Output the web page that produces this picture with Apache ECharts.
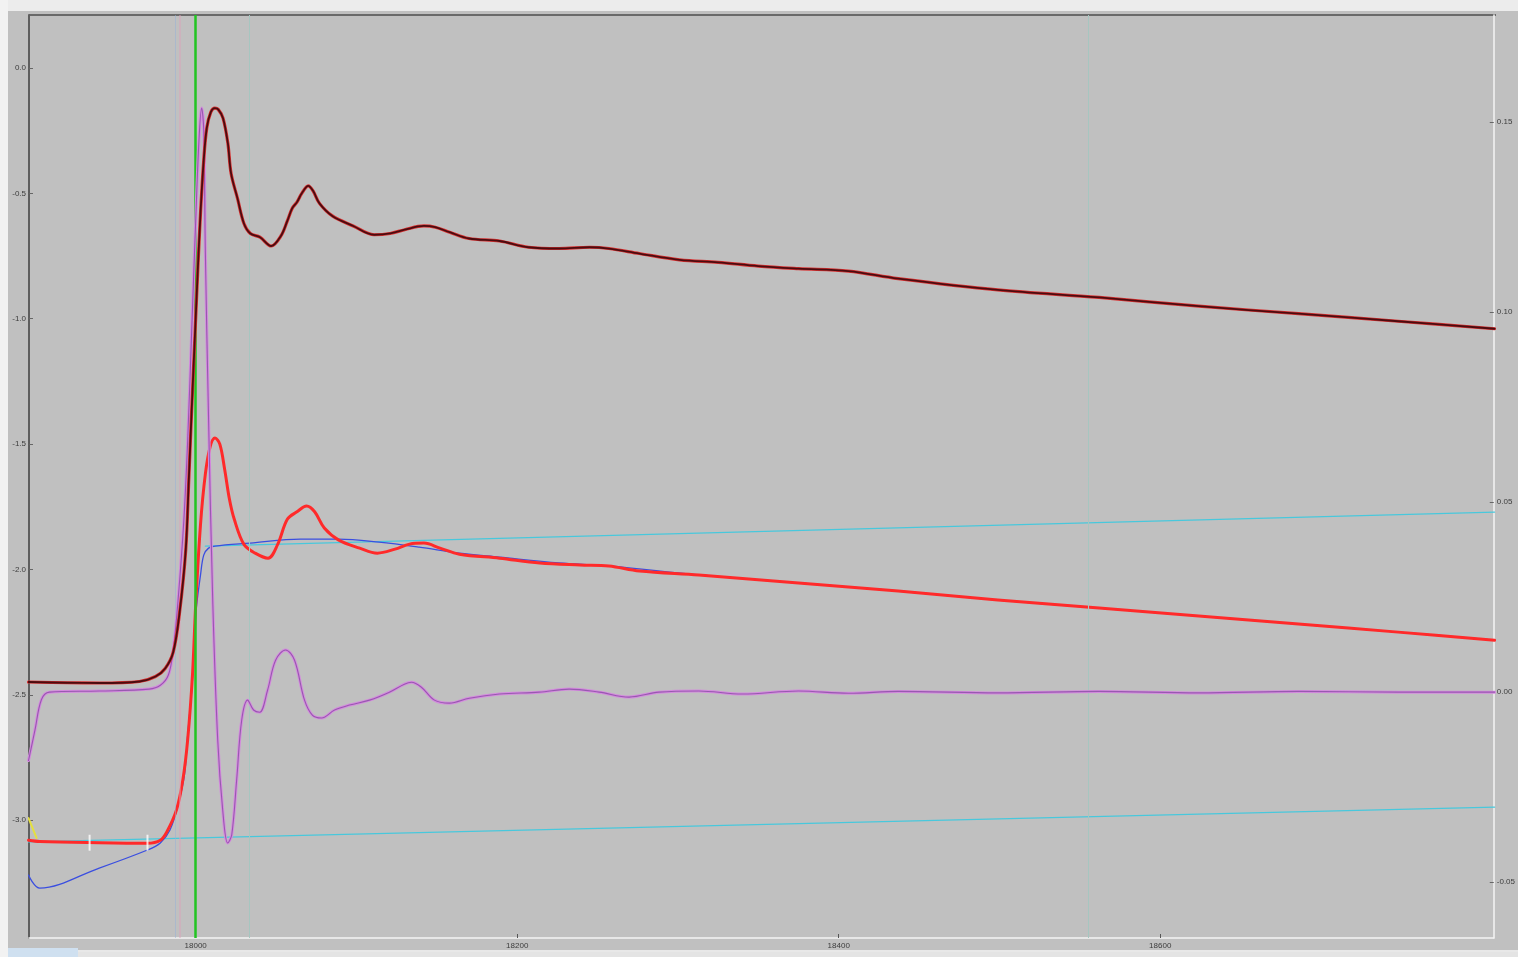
<!DOCTYPE html>
<html><head><meta charset="utf-8">
<script src="https://cdn.jsdelivr.net/npm/echarts@6/dist/echarts.min.js"></script>
<style>html,body{margin:0;padding:0;background:#ededed;overflow:hidden}#c{width:1518px;height:957px;}</style>
</head><body><div id="c"></div><script>
// Tick labels
const xTicks = [18000, 18200, 18400, 18600];
const leftTicks = [-3.0, -2.5, -2.0, -1.5, -1.0, -0.5, 0.0];
const rightTicks = [-0.05, 0.00, 0.05, 0.10, 0.15];

// mu(E), upper curve [energy eV, value]
const muUpper = [[17896,-2.449],[17920,-2.452],[17940,-2.453],[17965,-2.447],[17975,-2.427],[17981,-2.395],[17986,-2.33],[17990,-2.17],[17993.8,-1.923],[17995.7,-1.643],[17997.5,-1.364],[17999.4,-1.085],[18001.3,-0.806],[18003.1,-0.566],[18005,-0.367],[18006.9,-0.239],[18009.4,-0.176],[18011.9,-0.160],[18014,-0.165],[18017,-0.20],[18020,-0.30],[18022,-0.42],[18026,-0.52],[18030,-0.62],[18034,-0.66],[18040,-0.675],[18047,-0.71],[18053,-0.67],[18057,-0.61],[18060,-0.56],[18063,-0.535],[18066,-0.50],[18070,-0.47],[18073,-0.49],[18077,-0.54],[18085,-0.59],[18098,-0.63],[18111,-0.665],[18121,-0.66],[18130,-0.645],[18142,-0.63],[18149,-0.635],[18158,-0.655],[18170,-0.68],[18189,-0.69],[18207,-0.715],[18226,-0.72],[18245,-0.715],[18257,-0.72],[18276,-0.74],[18301,-0.765],[18325,-0.775],[18350,-0.79],[18375,-0.80],[18406,-0.81],[18437,-0.84],[18499,-0.885],[18562,-0.915],[18624,-0.95],[18686,-0.98],[18748,-1.01],[18808,-1.04]];

// lower curve
const muLower = [[17896,-3.08],[17903,-3.085],[17940,-3.09],[17970,-3.092],[17978,-3.08],[17982,-3.047],[17988,-2.96],[17992,-2.84],[17995,-2.68],[17998,-2.42],[18000,-2.14],[18003,-1.82],[18006,-1.62],[18009,-1.51],[18012,-1.476],[18015,-1.50],[18018,-1.60],[18021,-1.72],[18024,-1.80],[18030,-1.90],[18037,-1.935],[18045,-1.955],[18051,-1.90],[18057,-1.80],[18063,-1.77],[18069,-1.747],[18074,-1.77],[18080,-1.835],[18089,-1.883],[18102,-1.915],[18113,-1.935],[18124,-1.919],[18133,-1.899],[18142,-1.895],[18152,-1.915],[18164,-1.939],[18189,-1.955],[18214,-1.974],[18239,-1.982],[18257,-1.986],[18276,-2.006],[18313,-2.022],[18375,-2.054],[18437,-2.086],[18499,-2.122],[18562,-2.154],[18624,-2.186],[18686,-2.218],[18748,-2.25],[18808,-2.282]];

// background (blue)
const bkg = [[17896,-3.219],[17903,-3.271],[17940,-3.191],[17970,-3.119],[17978,-3.091],[17984,-3.039],[17989,-2.94],[17993,-2.82],[17995,-2.661],[17998,-2.441],[18000,-2.182],[18003,-2.022],[18005,-1.943],[18008,-1.915],[18012,-1.907],[18034,-1.895],[18065,-1.879],[18089,-1.879],[18114,-1.891],[18139,-1.911],[18164,-1.935],[18189,-1.951],[18226,-1.974],[18257,-1.986],[18313,-2.022],[18375,-2.054],[18437,-2.086],[18499,-2.122],[18562,-2.154],[18624,-2.186],[18686,-2.218],[18748,-2.25],[18808,-2.282]];

// derivative (right axis)
const deriv = [[17896,-0.018],[17900,-0.010],[17904,-0.002],[17909,0],[17940,0.0003],[17971,0.0008],[17978,0.0018],[17983,0.0045],[17986,0.011],[17989,0.024],[17992.6,0.045],[17995,0.066],[17997.5,0.095],[18000,0.124],[18002,0.145],[18003.7,0.1537],[18005,0.148],[18006,0.116],[18008,0.072],[18010.6,0.024],[18013.7,-0.0126],[18016.8,-0.031],[18019.9,-0.0397],[18022.4,-0.0376],[18025.5,-0.023],[18028.6,-0.0074],[18032.3,-0.0021],[18036,-0.0047],[18039.8,-0.0053],[18044.7,0.0005],[18049.7,0.0084],[18055.9,0.0111],[18061.5,0.0084],[18067.7,-0.0021],[18072.7,-0.0061],[18078.3,-0.0068],[18086.4,-0.0047],[18095.7,-0.0034],[18108.1,-0.0021],[18120.5,0],[18129.8,0.0021],[18134.2,0.0026],[18140.4,0.0013],[18148.5,-0.0021],[18157.8,-0.0029],[18170.2,-0.0016],[18188.9,-0.0005],[18213.7,0],[18232.3,0.0008],[18251,0],[18269.6,-0.0013],[18288.2,0],[18313,0.0003],[18340,-0.0005],[18375,0.0003],[18406,-0.0003],[18437,0.0002],[18499,-0.0002],[18562,0.0002],[18624,-0.0002],[18686,0.0002],[18748,0],[18808,0]];

// pre-edge and post-edge lines
const preLine = [[17896,-3.087],[18808,-2.948]];
const postLine = [[18006,-1.907],[18808,-1.771]];
// pre-edge range markers
const preMarks = [[17934,-3.09],[17970,-3.09]];
const yellowSeg = [[17896,-2.992],[17901,-3.071]];
// vertical markers (eV)
const e0 = 17999.5;
const normLines = [18033.6, 18555];
const faintPink = [17990];
const faintBlue = [17987];

const X_MIN = 17896.3, X_MAX = 18807.5;
const L_MIN = -3.470, L_MAX = 0.2114;
const R_MIN = -0.0647, R_MAX = 0.1782;

const lab = {fontSize: 8, color: '#3c3c3c', fontFamily: 'Liberation Sans'};
const chart = echarts.init(document.getElementById('c'), null, {renderer: 'canvas'});

function line(name, data, color, width, yIdx, z) {
  return {name, type: 'line', data, yAxisIndex: yIdx || 0, showSymbol: false, symbol: 'none',
    smooth: 0.35, lineStyle: {color, width, join: 'round', cap: 'round'}, z: z || 2, silent: true, animation: false};
}
function vline(vals, color, width, z) {
  return {type: 'line', data: [], z: z || 1, silent: true, markLine: {symbol: 'none', silent: true, animation: false,
    label: {show: false}, lineStyle: {color, width, type: 'solid'}, data: vals.map(v => ({xAxis: v}))}};
}

chart.setOption({
  backgroundColor: '#c0c0c0',
  animation: false,
  grid: {left: 29, right: 22, top: 15, bottom: 19, containLabel: false},
  xAxis: {type: 'value', min: X_MIN, max: X_MAX,
    axisLine: {show: true, onZero: false, lineStyle: {color: '#f4f4f4', width: 1.5}},
    axisTick: {show: true, inside: true, length: 4, lineStyle: {color: '#555'}, customValues: xTicks},
    axisLabel: Object.assign({margin: 4, customValues: xTicks, formatter: v => String(Math.round(v))}, lab),
    splitLine: {show: false}},
  yAxis: [
    {type: 'value', min: L_MIN, max: L_MAX, position: 'left',
      axisLine: {show: true, onZero: false, lineStyle: {color: '#5e5e5e', width: 2}},
      axisTick: {show: true, inside: true, length: 4, lineStyle: {color: '#666'}, customValues: leftTicks},
      axisLabel: Object.assign({margin: 3, customValues: leftTicks, formatter: v => v.toFixed(1)}, lab),
      splitLine: {show: false}},
    {type: 'value', min: R_MIN, max: R_MAX, position: 'right',
      axisLine: {show: true, onZero: false, lineStyle: {color: '#f4f4f4', width: 1.5}},
      axisTick: {show: true, inside: true, length: 4, lineStyle: {color: '#666'}, customValues: rightTicks},
      axisLabel: Object.assign({margin: 3, customValues: rightTicks, formatter: v => v.toFixed(2)}, lab),
      splitLine: {show: false}}
  ],
  graphic: [
    {type: 'rect', shape: {x: 0, y: 0, width: 1518, height: 11}, style: {fill: '#ececec'}, silent: true},
    {type: 'rect', shape: {x: 0, y: 0, width: 8, height: 957}, style: {fill: '#f2f2f2'}, silent: true},
    {type: 'line', shape: {x1: 29, y1: 15, x2: 1496, y2: 15}, style: {stroke: '#6a6a6a', lineWidth: 2}, silent: true},
    {type: 'line', shape: {x1: 8, y1: 951, x2: 1518, y2: 951}, style: {stroke: '#f6f6f6', lineWidth: 1.5}, silent: true},
    {type: 'rect', shape: {x: 8, y: 952, width: 1510, height: 5}, style: {fill: '#e4e4e4'}, silent: true},
    {type: 'rect', shape: {x: 8, y: 948, width: 70, height: 9}, style: {fill: '#cfe0f0'}, silent: true}
  ],
  series: [
    vline(faintBlue, 'rgba(150,175,215,0.5)', 1, 1),
    vline(faintPink, 'rgba(220,160,185,0.6)', 1.5, 1),
    vline(normLines, '#a6c6c0', 1, 1),
    line('pre-edge', preLine, '#48c8dc', 1.3, 0, 2),
    line('post-edge', postLine, '#48c8dc', 1.3, 0, 2),
    line('background', bkg, '#3a4ee0', 1.3, 0, 3),
    line('lower halo', muLower, '#ff2a2a', 3, 0, 4),
    line('deriv halo', deriv, '#d48ade', 3, 1, 5),
    line('deriv', deriv, '#9858b0', 1.1, 1, 6),
    line('mu halo', muUpper, '#d83030', 3.2, 0, 7),
    line('mu', muUpper, '#4a0c10', 1.8, 0, 8),
    line('yellow', yellowSeg, '#e4e040', 2, 0, 8),
    {type: 'scatter', data: preMarks, symbol: 'rect', symbolSize: [2, 16], itemStyle: {color: '#ffffff'}, z: 9, silent: true},
    vline([e0], '#22c422', 2.5, 10)
  ]
});
</script></body></html>
